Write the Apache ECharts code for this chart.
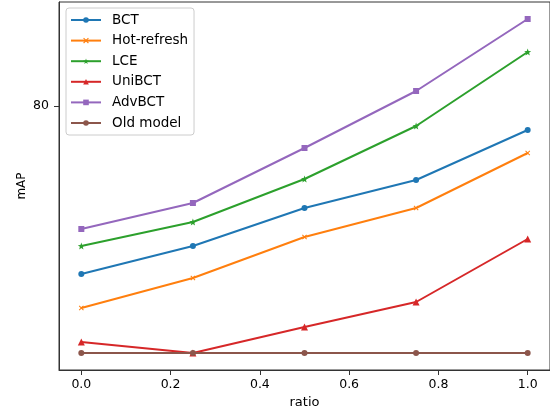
<!DOCTYPE html>
<html><head><meta charset="utf-8">
<script src="https://cdn.jsdelivr.net/npm/echarts@6/dist/echarts.min.js"></script>
<style>html,body{margin:0;padding:0;background:#fff}#c{width:550px;height:416px}</style>
</head><body><div id="c"></div>
<script>
const ratios = [0, 0.25, 0.5, 0.75, 1.0];
const bct = [71.6, 73.0, 74.9, 76.3, 78.8];
const hotRefresh = [69.9, 71.4, 73.45, 74.9, 77.65];
const lce = [73.0, 74.2, 76.35, 79.0, 82.7];
const uniBCT = [68.2, 67.65, 68.95, 70.2, 73.35];
const advBCT = [73.85, 75.15, 77.9, 80.75, 84.35];
const oldModel = [67.65, 67.65, 67.65, 67.65, 67.65];
const xTicks = [0, 0.2, 0.4, 0.6, 0.8, 1.0];
const yTicks = [80];

const names = ['BCT','Hot-refresh','LCE','UniBCT','AdvBCT','Old model'];
const colors = ['#1f77b4','#ff7f0e','#2ca02c','#d62728','#9467bd','#8c564b'];
const xSym = 'path://M0,1.4L1.4,0L5,3.6L8.6,0L10,1.4L6.4,5L10,8.6L8.6,10L5,6.4L1.4,10L0,8.6L3.6,5Z';
const starSym = 'path://M50,0L61.76,33.82L97.55,34.55L69.02,56.18L79.39,90.45L50,70L20.61,90.45L30.98,56.18L2.45,34.55L38.24,33.82Z';
const symbols = ['circle', xSym, starSym, 'triangle', 'rect', 'circle'];
const sizes = [6, 5, 7, 7, 6, 6];
const data = [bct, hotRefresh, lce, uniBCT, advBCT, oldModel];

const font = 'DejaVu Sans';
const chart = echarts.init(document.getElementById('c'), null, {renderer:'canvas'});
chart.setOption({
  animation:false,
  backgroundColor:'#fff',
  grid:{left:59, right:-1.4, top:2, bottom:46, show:true, borderColor:'#333', borderWidth:1, backgroundColor:'transparent'},
  legend:{
    orient:'vertical', left:66, top:8, padding:[5,6,5,4], itemGap:6.6, itemWidth:30, itemHeight:7,
    borderColor:'#ccc', borderWidth:1, borderRadius:3, backgroundColor:'rgba(255,255,255,0.8)',
    textStyle:{fontFamily:font, fontSize:13.5, lineHeight:14, color:'#000', padding:[0,0,0,6]},
    data:names
  },
  xAxis:{
    type:'value', min:-0.05, max:1.05,
    name:'ratio', nameLocation:'middle', nameGap:26, nameMoveOverlap:false,
    nameTextStyle:{fontFamily:font, fontSize:13, color:'#000'},
    axisLine:{show:true, onZero:false, lineStyle:{color:'#333', width:1}},
    axisTick:{show:true, length:5, lineStyle:{color:'#333'}, customValues:xTicks},
    axisLabel:{fontFamily:font, fontSize:12.5, color:'#000', margin:8, customValues:xTicks,
      formatter:v=>v.toFixed(1)},
    splitLine:{show:false}
  },
  yAxis:{
    type:'value', min:66.8, max:85.2,
    name:'mAP', nameLocation:'middle', nameGap:31, nameMoveOverlap:false,
    nameTextStyle:{fontFamily:font, fontSize:12, color:'#000'},
    axisLine:{show:true, onZero:false, lineStyle:{color:'#333', width:1}},
    axisTick:{show:true, length:5, lineStyle:{color:'#333'}, customValues:yTicks},
    axisLabel:{fontFamily:font, fontSize:12.5, color:'#000', margin:10, customValues:yTicks},
    splitLine:{show:false}
  },
  series: names.map((n,i)=>({
    name:n, type:'line',
    data: ratios.map((r,j)=>[r, data[i][j]]),
    symbol: symbols[i], symbolSize: sizes[i], showSymbol:true,
    lineStyle:{color:colors[i], width:2},
    itemStyle:{color:colors[i], borderWidth:0},
    emphasis:{disabled:true}
  }))
});
</script></body></html>
